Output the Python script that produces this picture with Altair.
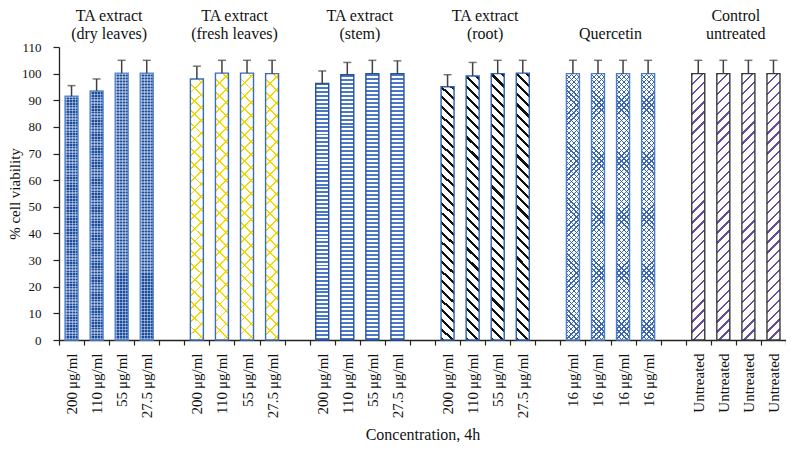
import math
import altair as alt
import pandas as pd

# ---------------- data ----------------
groups = ["dry leaves", "fresh leaves", "stem", "root", "quercetin", "control"]
title_line1 = ["TA extract", "TA extract", "TA extract", "TA extract", "", "Control"]
title_line2 = ["(dry leaves)", "(fresh leaves)", "(stem)", "(root)", "Quercetin", "untreated"]
ta_conc = ["200\u2009μg/ml", "110\u2009μg/ml", "55\u2009μg/ml", "27.5\u2009μg/ml"]
conc_labels = [ta_conc, ta_conc, ta_conc, ta_conc,
               ["16\u2009μg/ml"] * 4, ["Untreated"] * 4]
means = [
    [91.5, 93.5, 100.2, 100.2],
    [98.0, 100.2, 100.2, 100.0],
    [96.3, 99.6, 100.0, 100.0],
    [95.1, 99.1, 100.0, 100.2],
    [100.0, 100.0, 100.0, 100.0],
    [100.0, 100.0, 100.0, 100.0],
]
sds = [
    [4.0, 4.5, 4.8, 4.8],
    [4.8, 4.8, 4.8, 5.0],
    [4.7, 4.6, 5.0, 4.8],
    [4.5, 5.1, 5.0, 4.8],
    [5.0, 5.0, 5.0, 5.0],
    [5.0, 5.0, 5.0, 5.0],
]
y_ticks = list(range(0, 111, 10))
outline_colors = ["#5b8ad0", "#3b6cc0", "#2452a0", "#2c5fb0", "#4a7cc8", "#3a3a3a"]

N_SLOTS = 29
rows = []
tick_labels = [""] * N_SLOTS
for gi, g in enumerate(groups):
    for j in range(4):
        slot = 5 * gi + j
        tick_labels[slot] = conc_labels[gi][j]
        rows.append({"g": g, "gi": gi, "slot": slot, "mean": means[gi][j],
                     "upper": means[gi][j] + sds[gi][j]})
df = pd.DataFrame(rows)
titles_df = pd.DataFrame({"slot": [5 * i + 1 for i in range(len(groups))],
                          "l1": title_line1, "l2": title_line2})

# ---------------- layout ----------------
PLOT_W = 727
PLOT_H = 293
BAR_W = 13.0
H_REF = 100 * PLOT_H / 110
FONT = "Liberation Serif"


def stripe_stops(L, period, line, color, bg, phase=0.0):
    stops = [{"offset": 0, "color": bg}]
    k = -1
    while True:
        a = (k * period + phase) / L
        b = (k * period + phase + line) / L
        k += 1
        if a >= 1:
            break
        if b <= 0:
            continue
        a = round(max(a, 0.0), 5)
        b = round(min(b, 1.0), 5)
        stops += [{"offset": a, "color": bg}, {"offset": a, "color": color},
                  {"offset": b, "color": color}, {"offset": b, "color": bg}]
    stops.append({"offset": 1, "color": bg})
    return stops


def grad(kind, period, line, color, bg, phase=0.0):
    W, H = BAR_W, H_REF
    if kind == "h":
        L, c = H, (0, 0, 0, 1)
    elif kind == "v":
        L, c = W, (0, 0, 1, 0)
    else:
        k = (W + H) / (W * W + H * H)
        L = (W + H) / math.sqrt(2)
        if kind == "fwd":   # "/" lines
            c = (0, 0, k * W, k * H)
        else:               # "\" lines
            c = (0, 1, k * W, 1 - k * H)
    return {"gradient": "linear", "x1": round(c[0], 5), "y1": round(c[1], 5),
            "x2": round(c[2], 5), "y2": round(c[3], 5),
            "stops": stripe_stops(L, period, line, color, bg, phase)}


CLEAR = "rgba(255,255,255,0)"
WHITE_A = "rgba(255,255,255,0.42)"
fills = {
    0: [grad("h", 3.0, 3.0, "#1c4c9e", "#1c4c9e"),
        grad("h", 3.0, 1.5, WHITE_A, CLEAR),
        grad("v", 3.0, 1.5, WHITE_A, CLEAR, 0.5)],
    1: [grad("fwd", BAR_W / math.sqrt(2), 1.3, "#f5d800", "#ffffff"),
        grad("back", BAR_W / math.sqrt(2), 1.3, "#f5d800", CLEAR)],
    2: [grad("h", 4.0, 2.0, "#4a78c4", "#ffffff")],
    3: [grad("back", 7.2, 2.2, "#111111", "#ffffff")],
    4: [grad("fwd", 3.6, 0.9, "#3a66b0", "#ffffff"),
        grad("back", 3.6, 0.9, "#3a66b0", CLEAR)],
    5: [grad("fwd", 7.0, 1.6, "#6a4c9c", "#ffffff")],
}

label_expr = "[" + ",".join("'" + t + "'" for t in tick_labels) + "][datum.value]"

x_enc = alt.X(
    "slot:O",
    scale=alt.Scale(domain=list(range(N_SLOTS)), paddingInner=0, paddingOuter=0),
    axis=alt.Axis(
        title="Concentration, 4h", labelExpr=label_expr, labelAngle=270,
        labelFont=FONT, labelFontSize=15, labelColor="#111", labelPadding=8,
        labelOverlap=False, labelBound=False, tickBand="extent", tickSize=5,
        tickColor="#222", domainColor="#222", domainWidth=1.3, tickWidth=1.2,
        titleFont=FONT, titleFontSize=16, titleFontWeight="normal", titleColor="#111",
        titleY=99, titleBaseline="alphabetic",
    ),
)
y_axis = alt.Axis(
    title="% cell viability", values=y_ticks, grid=False,
    labelFont=FONT, labelFontSize=13, labelColor="#111", labelPadding=12,
    labelOverlap=False, labelFlush=False,
    tickSize=6, tickColor="#222", domainColor="#222", domainWidth=1.3, tickWidth=1.2,
    titleFont=FONT, titleFontSize=15, titleFontWeight="normal", titleColor="#111",
    titleAngle=270, titleX=-40, titleY=PLOT_H / 2, titleAlign="center",
    titleBaseline="alphabetic",
)
y_scale = alt.Scale(domain=[0, 110], nice=False)
y_enc = alt.Y("mean:Q", scale=y_scale, axis=y_axis)
y_up = alt.Y("upper:Q", scale=y_scale, axis=y_axis)

base = alt.Chart(df)
layers = []
for gi in range(len(groups)):
    for f in fills[gi]:
        layers.append(
            base.transform_filter(alt.datum.gi == gi)
            .mark_bar(size=BAR_W, fill=f, strokeWidth=0)
            .encode(x=x_enc, y=y_enc)
        )

outline = base.mark_bar(size=BAR_W, fillOpacity=0, strokeWidth=1.4).encode(
    x=x_enc, y=y_enc,
    stroke=alt.Stroke("g:N", scale=alt.Scale(domain=groups, range=outline_colors),
                      legend=None),
)
err_rule = base.mark_rule(color="#404040", strokeWidth=1.5).encode(
    x=x_enc, y=y_enc, y2="upper:Q")
err_cap = base.mark_tick(color="#404040", size=8, thickness=1.5).encode(
    x=x_enc, y=y_up)

t_base = alt.Chart(titles_df)
title1 = t_base.mark_text(font=FONT, fontSize=16, color="#111", align="center",
                          baseline="alphabetic").encode(
    x=alt.X("slot:O", bandPosition=1), y=alt.value(-26), text="l1:N")
title2 = t_base.mark_text(font=FONT, fontSize=16, color="#111", align="center",
                          baseline="alphabetic").encode(
    x=alt.X("slot:O", bandPosition=1), y=alt.value(-8), text="l2:N")

chart = alt.layer(*layers, outline, err_rule, err_cap, title1, title2).properties(
    width=PLOT_W, height=PLOT_H,
    autosize=alt.AutoSizeParams(type="none"),
    padding={"left": 51, "top": 39, "right": 0, "bottom": 102},
    background="white",
).configure_view(strokeWidth=0)

chart.save("out.html", embed_options={"renderer": "svg", "actions": False})
